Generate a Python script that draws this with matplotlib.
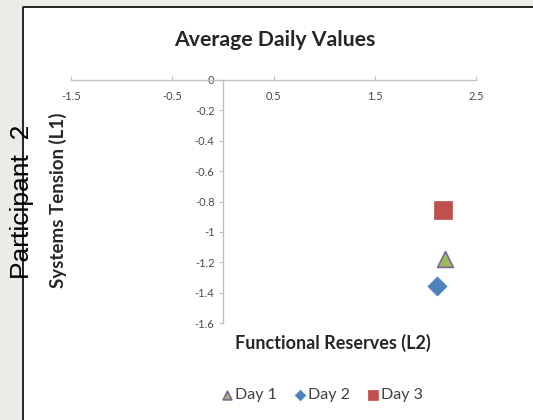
import matplotlib.pyplot as plt
from matplotlib.patches import Rectangle

# average daily values (L2, L1)
days = ["Day 1", "Day 2", "Day 3"]
reserves = [2.19, 2.11, 2.17]      # Functional Reserves (L2)
tension = [-1.18, -1.355, -0.855]  # Systems Tension (L1)
markers = ["^", "D", "s"]
faces = ["#9BBB59", "#4F81BD", "#C0504D"]
edges = ["#8064A2", "#4F81BD", "#C0504D"]
sizes = [130, 95, 150]

xticks = [-1.5, -0.5, 0.5, 1.5, 2.5]
yticks = [0, -0.2, -0.4, -0.6, -0.8, -1, -1.2, -1.4, -1.6]

plt.rcParams["font.family"] = ["Lato", "DejaVu Sans"]

fig = plt.figure(figsize=(5.33, 4.2), dpi=100)
fig.patch.set_facecolor("#ECEBE7")

# white chart area with black top/left edge
bg = fig.add_axes([0, 0, 1, 1], zorder=-5)
bg.set_xlim(0, 533)
bg.set_ylim(420, 0)
bg.axis("off")
bg.add_patch(Rectangle((23, 7), 520, 420, facecolor="white", edgecolor="none"))
bg.plot([23, 23, 540], [425, 7, 7], color="black", lw=1.2)

ax = fig.add_axes([71 / 533, 1 - 323 / 420, 405 / 533, 243 / 420])
ax.set_facecolor("none")

for d, x, y, m, fc, ec, s in zip(days, reserves, tension, markers, faces, edges, sizes):
    ax.scatter(x, y, marker=m, s=s, facecolor=fc, edgecolor=ec, linewidths=1.2 if m == "^" else 0.5,
               label=d, zorder=3, clip_on=False)

ax.set_xlim(-1.5, 2.5)
ax.set_ylim(-1.6, 0)

# axes cross at the origin
ax.spines["left"].set_position(("data", 0))
ax.spines["bottom"].set_position(("data", 0))
ax.spines["right"].set_visible(False)
ax.spines["top"].set_visible(False)
for sp in ["left", "bottom"]:
    ax.spines[sp].set_color("#BFBFBF")
    ax.spines[sp].set_linewidth(1.0)

ax.set_xticks(xticks)
ax.set_xticklabels([str(t) for t in xticks])
ax.set_yticks(yticks)
ax.set_yticklabels(["0", "-0.2", "-0.4", "-0.6", "-0.8", "-1", "-1.2", "-1.4", "-1.6"])
ax.tick_params(axis="x", direction="in", length=3, color="#BFBFBF", labelsize=8,
               labelcolor="#4A4A4A", pad=8)
ax.tick_params(axis="y", direction="out", length=3, color="#BFBFBF", labelsize=8,
               labelcolor="#4A4A4A", pad=3)

fig.text(275 / 533, 1 - 40 / 420, "Average Daily Values", ha="center", va="center",
         fontsize=15.3, fontweight="bold", color="#262626")
fig.text(58 / 533, 1 - 200 / 420, "Systems Tension (L1)", ha="center", va="center",
         rotation=90, fontsize=13.5, fontweight="bold", color="#262626")
fig.text(333 / 533, 1 - 343 / 420, "Functional Reserves (L2)", ha="center", va="center",
         fontsize=13, fontweight="bold", color="#262626")
fig.text(22 / 533, 1 - 202 / 420, "Participant  2", ha="center", va="center",
         rotation=90, fontsize=19, family=["Liberation Sans", "DejaVu Sans"], color="black")

ax.legend(loc="center", bbox_to_anchor=(321 / 533, 1 - 395 / 420), bbox_transform=fig.transFigure,
          ncol=3, frameon=False, fontsize=11.5, handletextpad=0.05, columnspacing=1.0,
          markerscale=0.55, labelcolor="#404040", handlelength=0.9)

fig.savefig("out.png", dpi=100, facecolor=fig.get_facecolor())
